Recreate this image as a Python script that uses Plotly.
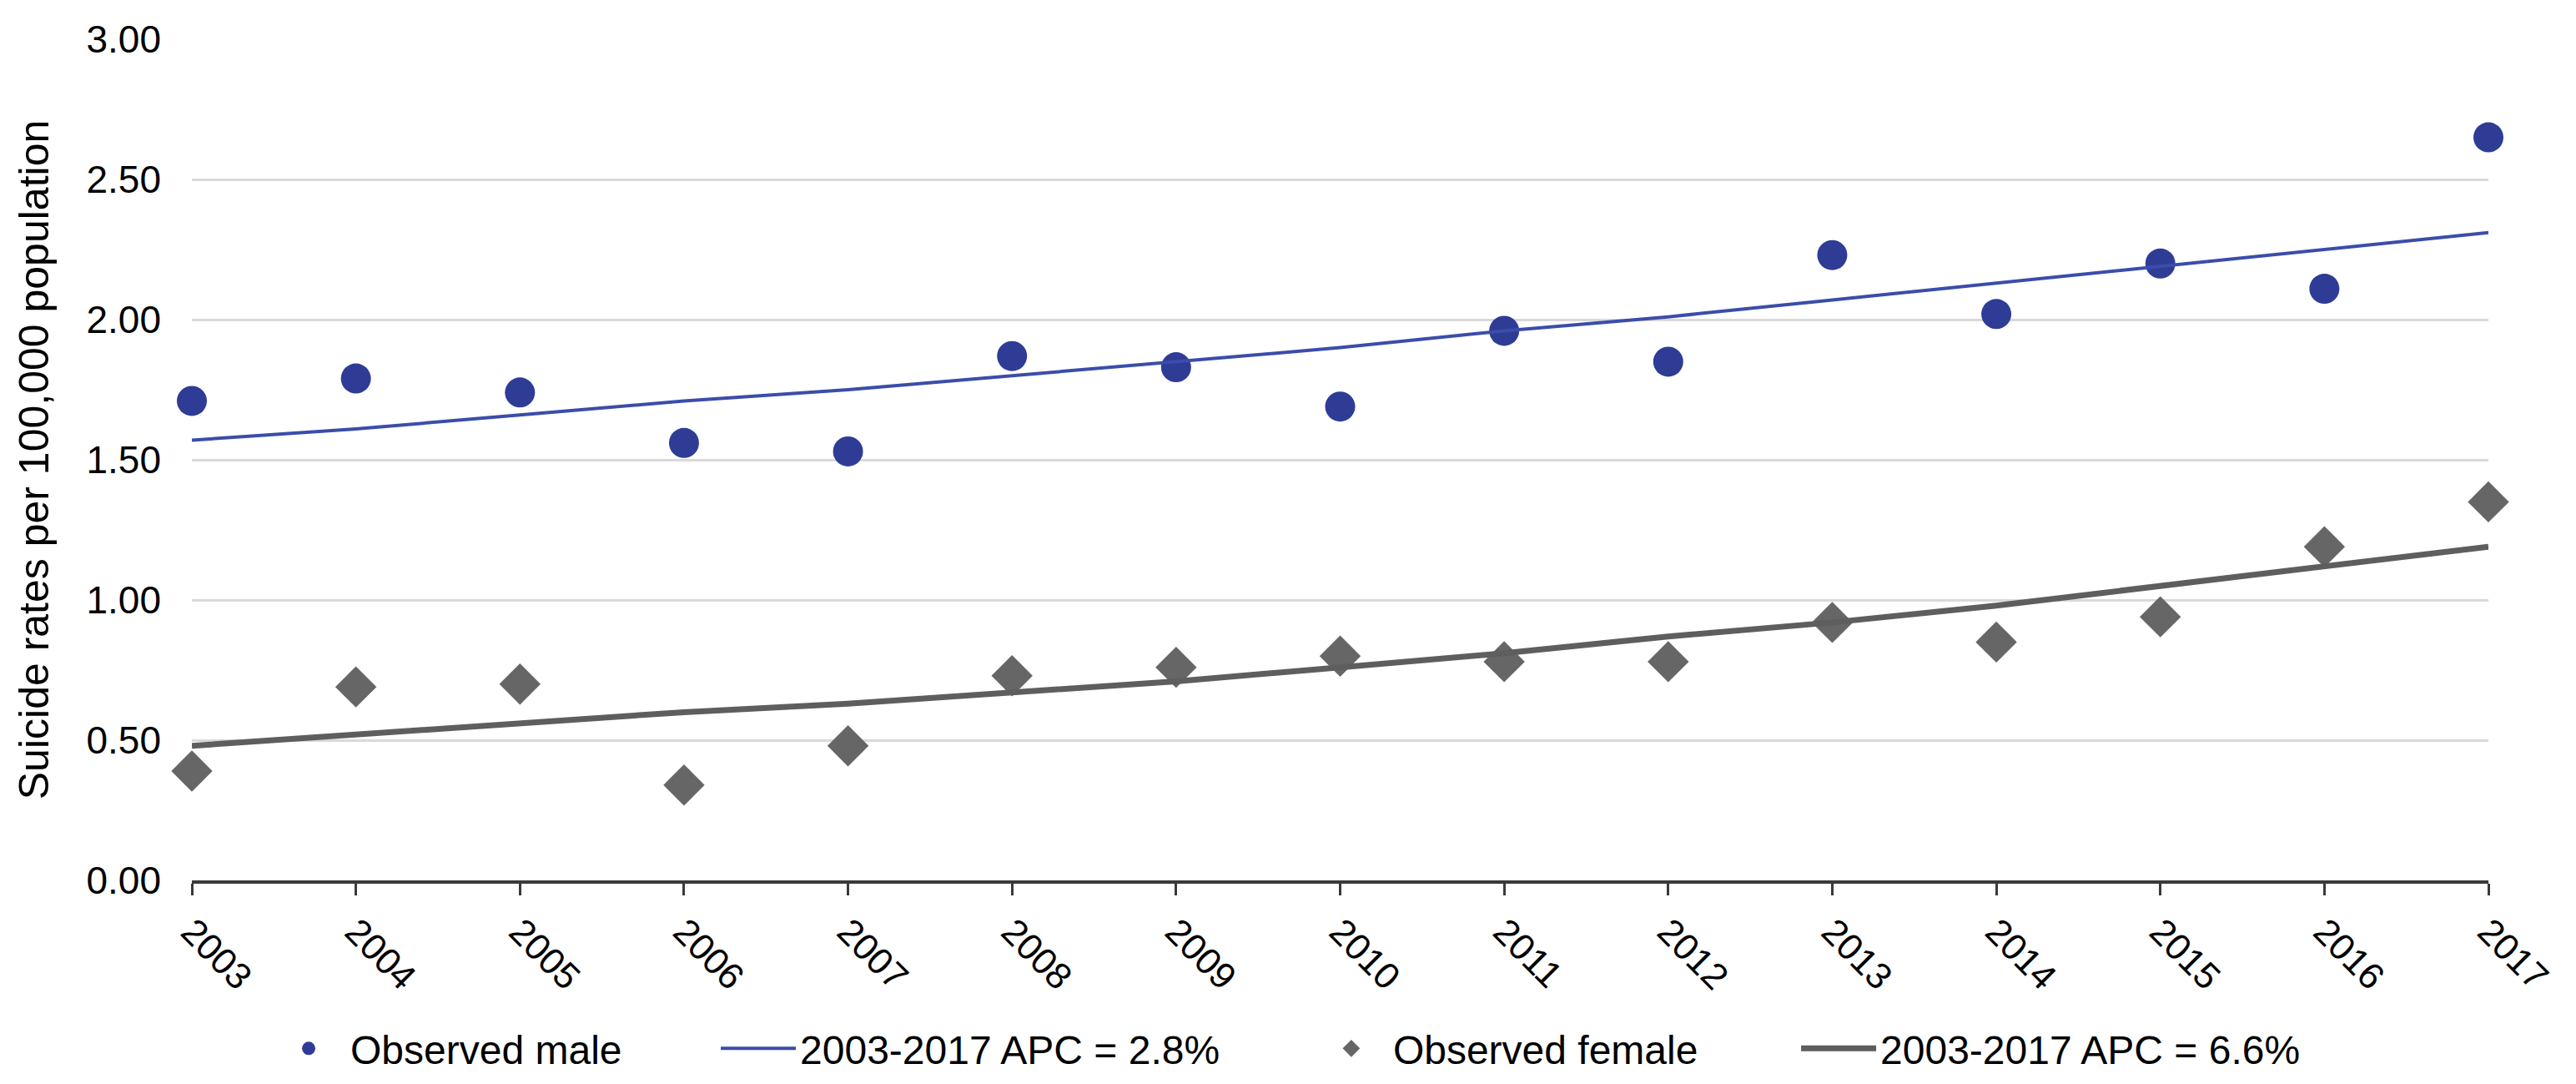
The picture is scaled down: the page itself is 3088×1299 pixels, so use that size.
import plotly.graph_objects as go

years = [2003, 2004, 2005, 2006, 2007, 2008, 2009, 2010, 2011, 2012, 2013, 2014, 2015, 2016, 2017]
male_observed = [1.71, 1.79, 1.74, 1.56, 1.53, 1.87, 1.83, 1.69, 1.96, 1.85, 2.23, 2.02, 2.20, 2.11, 2.65]
male_trend = [1.57, 1.61, 1.66, 1.71, 1.75, 1.80, 1.85, 1.90, 1.96, 2.01, 2.07, 2.13, 2.19, 2.25, 2.31]
female_observed = [0.39, 0.69, 0.70, 0.34, 0.48, 0.73, 0.76, 0.80, 0.78, 0.78, 0.92, 0.85, 0.94, 1.19, 1.35]
female_trend = [0.48, 0.52, 0.56, 0.60, 0.63, 0.67, 0.71, 0.76, 0.81, 0.87, 0.92, 0.98, 1.05, 1.12, 1.19]
y_ticks = [0, 0.5, 1.0, 1.5, 2.0, 2.5, 3.0]

fig = go.Figure()
fig.add_trace(go.Scatter(x=years, y=male_observed, mode="markers", name="Observed male", legend="legend",
                         marker=dict(symbol="circle", size=36, color="#2E3C96"), cliponaxis=False))
fig.add_trace(go.Scatter(x=years, y=male_trend, mode="lines", name="2003-2017 APC = 2.8%", legend="legend2",
                         line=dict(color="#3B4DAA", width=4), cliponaxis=False))
fig.add_trace(go.Scatter(x=years, y=female_observed, mode="markers", name="Observed female", legend="legend3",
                         marker=dict(symbol="diamond", size=38, color="#666666"), cliponaxis=False))
fig.add_trace(go.Scatter(x=years, y=female_trend, mode="lines", name="2003-2017 APC = 6.6%", legend="legend4",
                         line=dict(color="#5E5E5E", width=7), cliponaxis=False))

leg_font = dict(size=48, family="Liberation Sans, Arial, sans-serif", color="#000000")
leg_y = -0.2
def leg(x):
    return dict(orientation="h", x=x, xanchor="left", y=leg_y, yanchor="middle",
                font=leg_font, itemsizing="trace", itemwidth=90, bgcolor="rgba(0,0,0,0)")

fig.update_layout(
    width=3088, height=1299,
    margin=dict(l=222, r=113, t=39, b=242),
    paper_bgcolor="white", plot_bgcolor="white",
    font=dict(family="Liberation Sans, Arial, sans-serif", color="#000000"),
    showlegend=True,
    legend=leg(0.0327), legend2=leg(0.2285), legend3=leg(0.4867), legend4=leg(0.6989),
)
fig.update_xaxes(range=[2003, 2017], tickmode="array", tickvals=years, ticktext=[str(y) for y in years],
                 tickangle=45, tickfont=dict(size=44), showgrid=False, zeroline=False, automargin=False,
                 showline=True, linecolor="#3A3A3A", linewidth=4,
                 ticks="outside", ticklen=14, tickwidth=3, tickcolor="#3A3A3A")
fig.update_yaxes(range=[0, 3], tickmode="array", tickvals=y_ticks, tickformat=".2f", automargin=False,
                 tickfont=dict(size=46), showgrid=True, gridcolor="#D9D9D9", gridwidth=3,
                 zeroline=False, showline=False, ticks="", ticklabelstandoff=36,
                 title=dict(text="Suicide rates per 100,000 population",
                            font=dict(size=50, family="Liberation Sans, Arial, sans-serif"),
                            standoff=28))

fig.write_html("out.html")
